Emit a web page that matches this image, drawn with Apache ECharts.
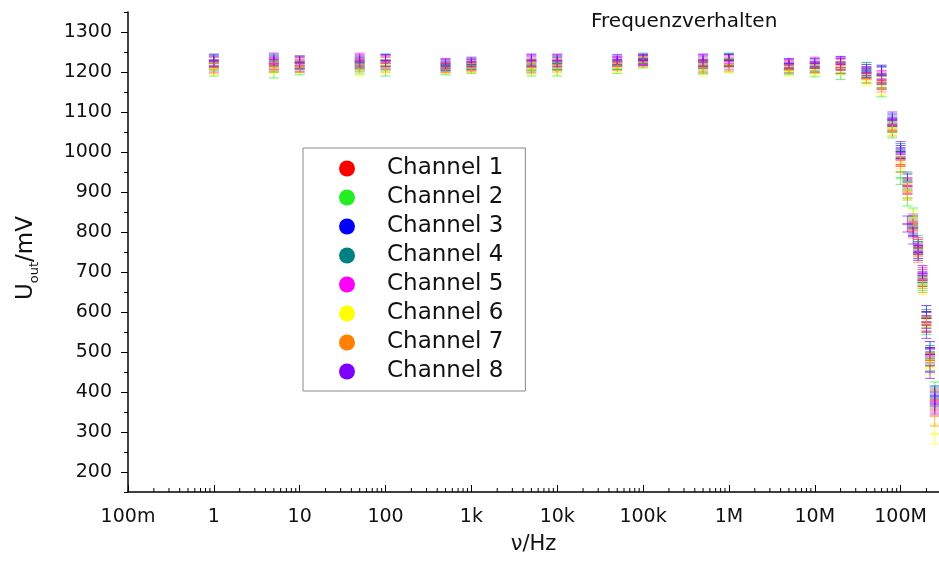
<!DOCTYPE html>
<html>
<head>
<meta charset="utf-8">
<script src="https://cdn.jsdelivr.net/npm/echarts@6/dist/echarts.min.js"></script>
<style>html,body{margin:0;padding:0;background:#fff}#c{width:939px;height:565px}</style>
</head>
<body>
<div id="c"></div>
<script>
// ---- data ----
const freqs = [1, 5, 10, 50, 100, 500, 1e3, 5e3, 1e4, 5e4, 1e5, 5e5, 1e6, 5e6, 1e7, 2e7, 4e7, 6e7, 8e7, 1e8, 1.2e8, 1.4e8, 1.6e8, 1.8e8, 2e8, 2.2e8, 2.5e8];
const errs  = [15, 15, 15, 15, 15, 12, 12, 15, 15, 12, 12, 15, 15, 12, 12, 14, 14, 22, 15, 16, 20, 20, 16, 16, 16, 16, 25];

const channelNames = ['Channel 1', 'Channel 2', 'Channel 3', 'Channel 4', 'Channel 5', 'Channel 6', 'Channel 7', 'Channel 8'];
const channelColors = ['#ff0000', '#22ee22', '#0000ff', '#008080', '#ff00ff', '#ffff00', '#ff8000', '#8000ff'];

const ch1 = [1222, 1220, 1222, 1225, 1222, 1212, 1215, 1220, 1220, 1225, 1230, 1220, 1228, 1215, 1210, 1218, 1195, 1178, 1065, 985, 915, 820, 765, 690, 585, 495, 380];
const ch2 = [1205, 1200, 1208, 1210, 1205, 1205, 1208, 1205, 1205, 1208, 1222, 1210, 1215, 1205, 1200, 1195, 1188, 1160, 1050, 935, 885, 840, 775, 670, 560, 470, 400];
const ch3 = [1225, 1225, 1215, 1222, 1228, 1215, 1220, 1225, 1225, 1228, 1232, 1225, 1230, 1220, 1215, 1225, 1205, 1195, 1080, 1000, 925, 815, 750, 680, 600, 510, 390];
const ch4 = [1230, 1228, 1225, 1218, 1230, 1218, 1218, 1215, 1222, 1218, 1235, 1215, 1232, 1210, 1220, 1210, 1210, 1190, 1075, 1005, 930, 810, 760, 675, 590, 500, 385];
const ch5 = [1215, 1222, 1220, 1232, 1225, 1222, 1222, 1228, 1230, 1225, 1230, 1228, 1222, 1218, 1225, 1222, 1198, 1182, 1068, 980, 915, 825, 770, 695, 575, 490, 375];
const ch6 = [1208, 1210, 1212, 1205, 1212, 1208, 1210, 1208, 1210, 1210, 1225, 1205, 1212, 1202, 1205, 1208, 1180, 1165, 1060, 975, 905, 835, 745, 660, 565, 460, 295];
const ch7 = [1212, 1215, 1215, 1215, 1215, 1210, 1212, 1212, 1215, 1215, 1225, 1212, 1218, 1208, 1210, 1212, 1185, 1172, 1055, 965, 900, 805, 740, 665, 570, 480, 340];
const ch8 = [1228, 1232, 1225, 1228, 1228, 1220, 1225, 1230, 1228, 1232, 1228, 1230, 1228, 1222, 1222, 1220, 1200, 1192, 1085, 1010, 820, 790, 745, 700, 550, 450, 370];
const channels = [ch1, ch2, ch3, ch4, ch5, ch6, ch7, ch8];

const xTickLabels = ['100m', '1', '10', '100', '1k', '10k', '100k', '1M', '10M', '100M'];
const yLabelValues = [200, 300, 400, 500, 600, 700, 800, 900, 1000, 1100, 1200, 1300];
const yMinorValues = [150, 250, 350, 450, 550, 650, 750, 850, 950, 1050, 1150, 1250, 1350];

const X_MIN = 0.1, X_MAX = 2.8e8, Y_MIN = 150, Y_MAX = 1350;
const FONT = '"DejaVu Sans", "Liberation Sans", Arial, sans-serif';

// minor log ticks (2..9 within each decade) – axis decoration
const xMinor = [];
for (let d = -1; d <= 8; d++) for (let m = 2; m <= 9; m++) { const v = m * Math.pow(10, d); if (v < X_MAX) xMinor.push([v]); }

function errRender(color) {
  return function (params, api) {
    const x = api.value(0), y = api.value(1), lo = api.value(2), hi = api.value(3);
    const pm = api.coord([x, y]), pl = api.coord([x, lo]), ph = api.coord([x, hi]);
    const hw = 5;
    const st = { stroke: color, lineWidth: 1, opacity: 0.65 };
    return {
      type: 'group',
      children: [
        { type: 'line', shape: { x1: ph[0], y1: ph[1], x2: pl[0], y2: pl[1] }, style: st },
        { type: 'line', shape: { x1: ph[0] - hw, y1: ph[1], x2: ph[0] + hw, y2: ph[1] }, style: st },
        { type: 'line', shape: { x1: pl[0] - hw, y1: pl[1], x2: pl[0] + hw, y2: pl[1] }, style: st },
        { type: 'line', shape: { x1: pm[0] - hw, y1: pm[1], x2: pm[0] + hw, y2: pm[1] }, style: { stroke: color, lineWidth: 1.5, opacity: 0.7 } }
      ]
    };
  };
}

const series = channels.map((vals, i) => ({
  name: channelNames[i],
  type: 'custom',
  xAxisIndex: 0, yAxisIndex: 0,
  itemStyle: { color: channelColors[i] },
  renderItem: errRender(channelColors[i]),
  encode: { x: 0, y: [1, 2, 3] },
  data: freqs.map((f, k) => [f, vals[k], vals[k] - errs[k], vals[k] + errs[k]]),
  z: 2 + i
}));

series.push({
  name: 'minorTicks',
  type: 'custom',
  silent: true,
  clip: false,
  renderItem: function (params, api) {
    const p = api.coord([api.value(0), Y_MIN]);
    return { type: 'line', shape: { x1: p[0], y1: p[1], x2: p[0], y2: p[1] - 4 }, style: { stroke: '#000', lineWidth: 1 } };
  },
  encode: { x: 0 },
  data: xMinor,
  z: 20
});

const chart = echarts.init(document.getElementById('c'), null, { renderer: 'canvas' });
chart.setOption({
  animation: false,
  backgroundColor: '#fff',
  title: {
    text: 'Frequenzverhalten', left: 586, top: 7,
    textStyle: { fontFamily: FONT, fontSize: 20, fontWeight: 'normal', color: '#111' }
  },
  grid: { left: 128, right: 0, top: 12, bottom: 73, containLabel: false },
  legend: {
    data: channelNames.map(n => ({ name: n, icon: 'circle' })),
    orient: 'vertical',
    left: 303, top: 148,
    itemWidth: 18, itemHeight: 16, itemGap: 6,
    padding: [9, 22, 8, 36],
    borderColor: '#888', borderWidth: 1,
    selectedMode: false,
    textStyle: { fontFamily: FONT, fontSize: 23, color: '#111', lineHeight: 22, padding: [0, 0, 0, 26] }
  },
  xAxis: {
    type: 'log', logBase: 10, min: X_MIN, max: X_MAX,
    name: 'ν/Hz', nameLocation: 'middle', nameGap: 42,
    nameTextStyle: { fontFamily: FONT, fontSize: 21, color: '#111' },
    axisLine: { onZero: false, lineStyle: { color: '#000', width: 1.5 } },
    axisTick: { inside: true, length: 7, lineStyle: { color: '#000', width: 1 } },
    axisLabel: {
      margin: 16, fontFamily: FONT, fontSize: 19, color: '#111', showMaxLabel: false,
      formatter: v => { const k = Math.round(Math.log10(v)) + 1; return xTickLabels[k] !== undefined ? xTickLabels[k] : ''; }
    },
    splitLine: { show: false }
  },
  yAxis: [{
    type: 'value', min: Y_MIN, max: Y_MAX, interval: 50,
    axisLine: { show: true, lineStyle: { color: '#000', width: 1.5 } },
    axisTick: { show: true, inside: false, length: 7, customValues: yLabelValues, lineStyle: { color: '#000' } },
    axisLabel: { margin: 16, fontFamily: FONT, fontSize: 19, color: '#111', customValues: yLabelValues, formatter: v => String(v) },
    splitLine: { show: false }
  }, {
    type: 'value', min: Y_MIN, max: Y_MAX, interval: 50, position: 'left',
    axisLine: { show: false },
    axisTick: { show: true, inside: false, length: 4, customValues: yMinorValues, lineStyle: { color: '#000' } },
    axisLabel: { show: false },
    splitLine: { show: false }
  }],
  graphic: [{
    type: 'text', x: 26, y: 258, rotation: Math.PI / 2,
    style: {
      text: '{u|U}{s|out}{u|/mV}',
      align: 'center', verticalAlign: 'middle',
      rich: {
        u: { fontFamily: FONT, fontSize: 23, lineHeight: 30, fill: '#111', color: '#111' },
        s: { fontFamily: FONT, fontSize: 13, lineHeight: 14, verticalAlign: 'bottom', fill: '#111', color: '#111' }
      }
    }
  }],
  series: series
});
</script>
</body>
</html>
